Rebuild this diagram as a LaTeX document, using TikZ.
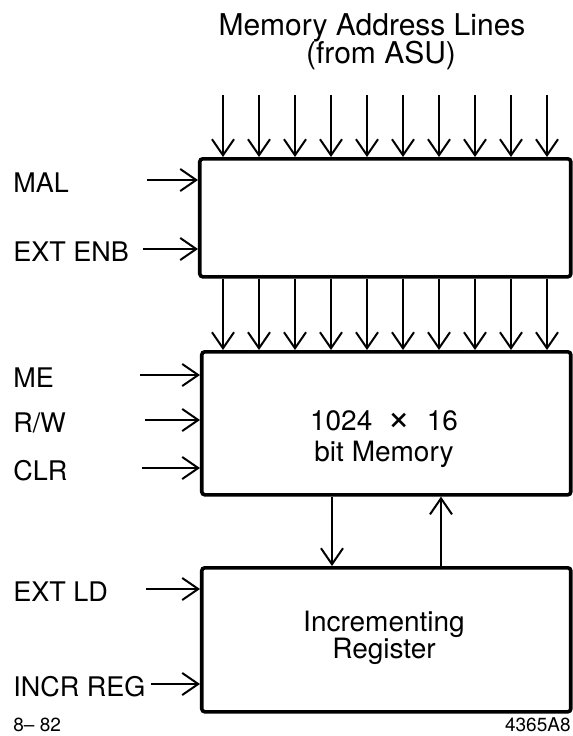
\documentclass[tikz,border=0pt]{standalone}
\usepackage{fontspec}
\setmainfont{TeX Gyre Heros}
\usetikzlibrary{arrows.meta}
\tikzset{
  blk/.style={draw, line width=1.8pt, rounded corners=1.5pt, anchor=north west, inner sep=0pt},
  sig/.style={line width=1pt, -{Straight Barb[length=8pt,width=11pt,line width=1pt]}},
  lbl/.style={font=\fontsize{13.5}{16}\selectfont, anchor=base west, inner sep=0pt},
  ttl/.style={font=\fontsize{15}{18}\selectfont, anchor=base, inner sep=0pt},
  boxtxt/.style={font=\fontsize{14}{17}\selectfont, anchor=base, inner sep=0pt},
  note/.style={font=\fontsize{9.5}{11}\selectfont, inner sep=0pt},
}
% control input: name, text, arrow y, arrow start x, target block
\newcommand{\sigin}[5]{%
  \node[lbl] (#1) at (13,{#3+12}) {#2};
  \coordinate (#1s) at (#4,#3);
  \draw[sig] (#1s) -- (#1s -| #5.west);}

\begin{document}
\begin{tikzpicture}[x=0.5pt, y=-0.5pt]
  \useasboundingbox (0,0) rectangle (573,736);
  % blocks
  \node[blk, minimum width=185.5pt, minimum height=59pt] (latch) at (198,157) {};
  \node[blk, minimum width=184.5pt, minimum height=71.5pt] (mem) at (200,350) {};
  \node[blk, minimum width=184.5pt, minimum height=72pt] (reg) at (200,566) {};
  \node[boxtxt] (memsize) at (384,430) {1024 \ {\fontsize{20}{20}\selectfont ×} \ 16};
  \node[boxtxt] (membit) at (384,461) {bit Memory};
  \node[boxtxt] (reginc) at (384,631) {Incrementing};
  \node[boxtxt] (regname) at (384,658) {Register};
  % title
  \node[ttl] (title) at (372,35) {Memory Address Lines};
  \node[ttl] (source) at (381,63) {(from ASU)};
  % address lines
  \foreach \i [evaluate=\i as \x using 223+36*\i] in {0,...,9}{
    \coordinate (a\i) at (\x,95);
    \draw[sig] (a\i) -- (a\i |- latch.north);
    \draw[sig] (a\i |- latch.south) -- (a\i |- mem.north);
  }
  % control inputs
  \sigin{mal}{MAL}{180}{147}{latch}
  \sigin{extenb}{EXT ENB}{249}{143}{latch}
  \sigin{me}{ME}{375}{140}{mem}
  \sigin{rw}{R/W}{420}{145}{mem}
  \sigin{clr}{CLR}{468}{142}{mem}
  \sigin{extld}{EXT LD}{589}{146}{reg}
  \sigin{incr}{INCR REG}{684}{151}{reg}
  % data path
  \coordinate (dn) at (332,530);
  \coordinate (up) at (441,530);
  \draw[sig] (dn |- mem.south) -- (dn |- reg.north);
  \draw[sig] (up |- reg.north) -- (up |- mem.south);
  % drawing numbers
  \node[note, anchor=base west] (date) at (13,731) {8-- 82};
  \node[note, anchor=base east] (fig) at (571,731) {4365A8};
\end{tikzpicture}
\end{document}
